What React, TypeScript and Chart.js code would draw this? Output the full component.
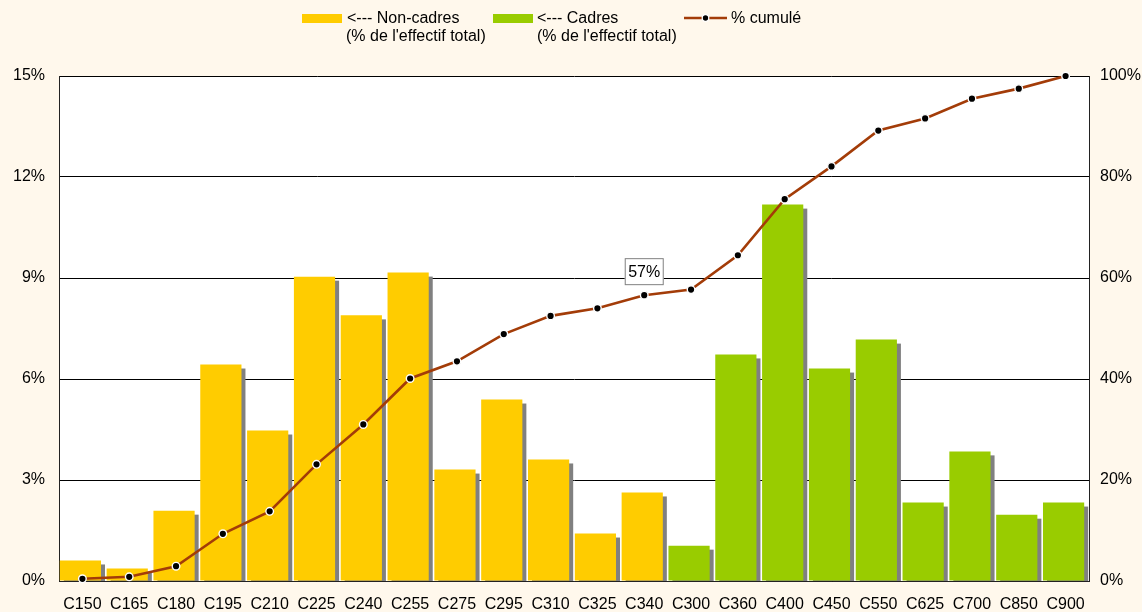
import React, { useEffect, useRef } from "react";
import { Chart, registerables } from "chart.js";

Chart.register(...registerables);

const categories = ["C150","C165","C180","C195","C210","C225","C240","C255","C275","C295","C310","C325","C340","C300","C360","C400","C450","C550","C625","C700","C850","C900"];
const nonCadres = [0.61,0.37,2.09,6.43,4.47,9.04,7.89,9.16,3.31,5.39,3.61,1.41,2.63,null,null,null,null,null,null,null,null,null];
const cadres = [null,null,null,null,null,null,null,null,null,null,null,null,null,1.05,6.73,11.18,6.31,7.17,2.33,3.85,1.97,2.33];
const cumule = [0.44,0.83,2.93,9.35,13.8,23.1,31.0,40.1,43.5,48.9,52.5,54.0,56.6,57.7,64.5,75.6,82.1,89.2,91.6,95.5,97.5,100];
const leftTicks = [0,3,6,9,12,15];
const rightTicks = [0,20,40,60,80,100];
const labelIndex = 12;
const labelText = "57%";

const BG = "#FFF8EC";
const YELLOW = "#FFCC00";
const GREEN = "#99CC00";
const LINE = "#A33C08";
const FONT = "Liberation Sans";

export default function App() {
  const ref = useRef<HTMLCanvasElement>(null);
  useEffect(() => {
    document.body.style.margin = "0";
    document.body.style.background = BG;
    const shadowPlugin = {
      id: "shadow",
      beforeDraw(chart: any) {
        const { ctx, chartArea: a } = chart;
        ctx.save();
        ctx.fillStyle = BG;
        ctx.fillRect(0, 0, chart.width, chart.height);
        ctx.fillStyle = "#FFFFFF";
        ctx.fillRect(a.left, a.top, a.right - a.left, a.bottom - a.top);
        ctx.restore();
      },
      afterDatasetsUpdate(chart: any) {
        [0, 1].forEach((di) => {
          chart.getDatasetMeta(di).data.forEach((el: any) => { el.x -= 2; });
        });
      },
      beforeDatasetsDraw(chart: any) {
        const { ctx, chartArea: a } = chart;
        ctx.save();
        ctx.beginPath();
        ctx.rect(a.left, a.top, a.right - a.left, a.bottom - a.top);
        ctx.clip();
        ctx.fillStyle = "#808080";
        [0, 1].forEach((di) => {
          const meta = chart.getDatasetMeta(di);
          meta.data.forEach((el: any, i: number) => {
            const v = chart.data.datasets[di].data[i];
            if (v == null) return;
            const w = el.width;
            ctx.fillRect(el.x - w / 2 + 4, el.y + 4, w, el.base - el.y);
          });
        });
        ctx.restore();
      },
      afterDraw(chart: any) {
        const { ctx } = chart;
        ctx.save();
        const pt = chart.getDatasetMeta(2).data[labelIndex];
        if (pt) {
          const bx = pt.x - 19.5, by = pt.y - 37, bw = 39, bh = 27;
          ctx.fillStyle = "#FFFFFF";
          ctx.fillRect(bx, by, bw, bh);
          ctx.strokeStyle = "#808080";
          ctx.lineWidth = 1;
          ctx.strokeRect(bx + 0.5, by + 0.5, bw - 1, bh - 1);
          ctx.fillStyle = "#000";
          ctx.font = `16px "${FONT}"`;
          ctx.textAlign = "center";
          ctx.textBaseline = "middle";
          ctx.fillText(labelText, pt.x, by + bh / 2 + 1);
        }
        ctx.font = `16px "${FONT}"`;
        ctx.textAlign = "left";
        ctx.textBaseline = "middle";
        ctx.fillStyle = YELLOW;
        ctx.fillRect(302, 14, 40, 9);
        ctx.fillStyle = GREEN;
        ctx.fillRect(493, 14, 40, 9);
        ctx.fillStyle = "#000";
        ctx.fillText("<--- Non-cadres", 347, 19);
        ctx.fillText("(% de l'effectif total)", 346, 36.5);
        ctx.fillText("<--- Cadres", 537, 19);
        ctx.fillText("(% de l'effectif total)", 537, 36.5);
        ctx.strokeStyle = LINE;
        ctx.lineWidth = 2.5;
        ctx.beginPath();
        ctx.moveTo(684, 18);
        ctx.lineTo(727, 18);
        ctx.stroke();
        ctx.beginPath();
        ctx.arc(705.5, 18, 3.3, 0, Math.PI * 2);
        ctx.fillStyle = "#000";
        ctx.fill();
        ctx.strokeStyle = "#FFF";
        ctx.lineWidth = 1.3;
        ctx.stroke();
        ctx.fillStyle = "#000";
        ctx.fillText("% cumulé", 731, 19);
        ctx.restore();
      },
    };

    const chart = new Chart(ref.current as HTMLCanvasElement, {
      type: "bar",
      data: {
        labels: categories,
        datasets: [
          { type: "bar", label: "Non-cadres", data: nonCadres as any, backgroundColor: YELLOW, yAxisID: "y", grouped: false, barPercentage: 0.88, categoryPercentage: 1, order: 2 },
          { type: "bar", label: "Cadres", data: cadres as any, backgroundColor: GREEN, yAxisID: "y", grouped: false, barPercentage: 0.88, categoryPercentage: 1, order: 2 },
          { type: "line", label: "% cumulé", data: cumule, yAxisID: "y2", clip: false, borderColor: LINE, borderWidth: 2.6, pointRadius: 3.8, pointBackgroundColor: "#000", pointBorderColor: "#FFF", pointBorderWidth: 1.4, tension: 0, order: 0 } as any,
        ],
      },
      options: {
        responsive: false,
        animation: false,
        layout: { padding: { top: 76, left: 0, right: 0, bottom: 0 } },
        plugins: { legend: { display: false }, tooltip: { enabled: false } },
        scales: {
          x: {
            grid: { display: false, drawTicks: false },
            border: { display: true, color: "#222", width: 1 },
            ticks: { color: "#000", font: { family: FONT, size: 16 }, padding: 14, maxRotation: 0, autoSkip: false },
            afterFit(s: any) { s.height = 31; },
          },
          y: {
            position: "left",
            min: 0, max: 15,
            afterBuildTicks(s: any) { s.ticks = leftTicks.map((v) => ({ value: v })); },
            grid: { color: "#000", lineWidth: 1, drawTicks: false },
            border: { display: true, color: "#222", width: 1 },
            ticks: { color: "#000", font: { family: FONT, size: 16 }, padding: 14, callback: (v: any) => v + "%" },
            afterFit(s: any) { s.width = 59; },
          },
          y2: {
            position: "right",
            min: 0, max: 100,
            afterBuildTicks(s: any) { s.ticks = rightTicks.map((v) => ({ value: v })); },
            grid: { display: false, drawTicks: false },
            border: { display: true, color: "#222", width: 1 },
            ticks: { color: "#000", font: { family: FONT, size: 16 }, padding: 11, callback: (v: any) => v + "%" },
            afterFit(s: any) { s.width = 53; },
          },
        },
      },
      plugins: [shadowPlugin],
    });
    return () => chart.destroy();
  }, []);
  return (
    <div style={{ position: "absolute", left: 0, top: 0, width: 1142, height: 612, background: BG }}>
      <canvas ref={ref} width={1142} height={612} style={{ display: "block" }} />
    </div>
  );
}
